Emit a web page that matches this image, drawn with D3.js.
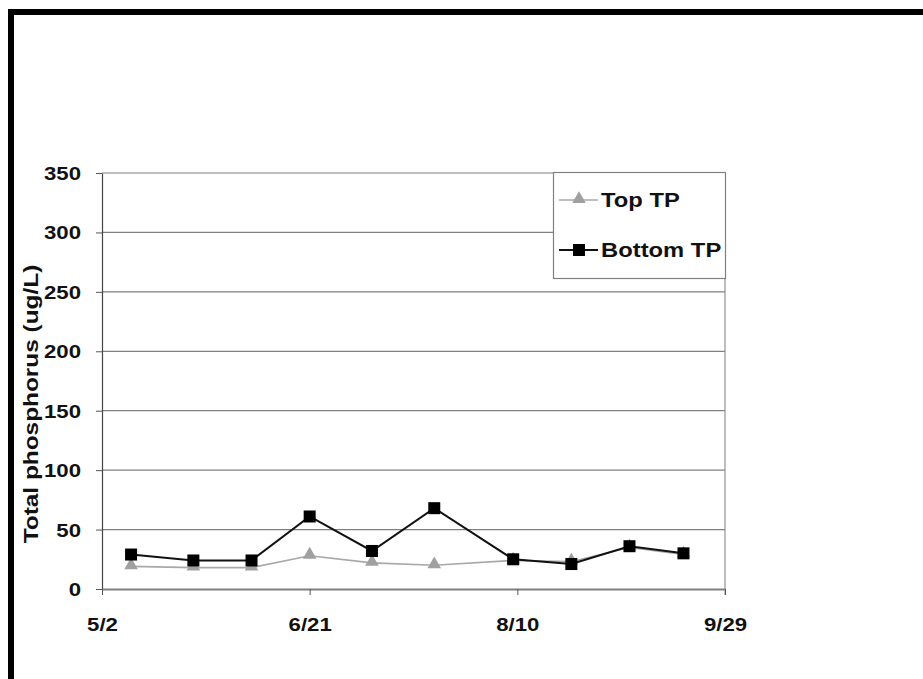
<!DOCTYPE html>
<html><head><meta charset="utf-8">
<script src="https://cdn.jsdelivr.net/npm/d3@7"></script>
<style>body{margin:0;background:#fff;} svg{display:block;} text{font-family:"Liberation Sans",Arial,sans-serif;font-weight:bold;}</style>
</head><body>
<script>
const dates = ["5/9","5/24","6/7","6/21","7/6","7/21","8/9","8/23","9/6","9/19"];
const topTP = [19, 18, 18, 28, 22, 20, 24, 23, 35, 29];
const bottomTP = [29, 24, 24, 61, 32, 68, 25, 21, 36, 30];
const xTickLabels = ["5/2","6/21","8/10","9/29"];
const yTicks = [0,50,100,150,200,250,300,350];
const seriesNames = ["Top TP","Bottom TP"];

const W = 923, H = 679;
const parse = s => { const [m,d] = s.split("/").map(Number); return new Date(2000, m-1, d); };
const svg = d3.select("body").append("svg").attr("width", W).attr("height", H);

// frame
svg.append("rect").attr("x",8).attr("y",9).attr("width",W-8).attr("height",6).attr("fill","#000");
svg.append("rect").attr("x",8).attr("y",9).attr("width",6).attr("height",H-9).attr("fill","#000");

const x = d3.scaleTime().domain([parse("5/2"), parse("9/29")]).range([102, 725]);
const y = d3.scaleLinear().domain([0,350]).range([589, 173]);
const SX = 1.2;

// gridlines
svg.append("g").selectAll("line").data(yTicks.filter(v=>v>0)).join("line")
  .attr("x1",102).attr("x2",725).attr("y1",d=>y(d)).attr("y2",d=>y(d))
  .attr("stroke","#808080").attr("stroke-width",1.2);
// right border
svg.append("line").attr("x1",725).attr("x2",725).attr("y1",y(350)).attr("y2",595)
  .attr("stroke","#909090").attr("stroke-width",1.2);

// y axis
const yAxis = d3.axisLeft(y).tickValues(yTicks).tickSize(6).tickSizeOuter(0).tickFormat(d3.format("d"));
const gy = svg.append("g").attr("transform","translate(102,0)").call(yAxis);
gy.select(".domain").attr("stroke","#444").attr("stroke-width",1.2);
gy.selectAll(".tick line").attr("stroke","#555");
gy.selectAll(".tick text").attr("font-size",18.5).attr("fill","#111").attr("x",0).attr("dy","0.35em")
  .attr("text-anchor","end").attr("transform",`translate(-21,0) scale(${SX},1)`);

// x axis
const xAxis = d3.axisBottom(x).tickValues(xTickLabels.map(parse)).tickSize(6).tickSizeOuter(0)
  .tickFormat((d,i)=>xTickLabels[i]);
const gx = svg.append("g").attr("transform",`translate(0,${y(0)})`).call(xAxis);
gx.select(".domain").attr("stroke","#808080").attr("stroke-width",2);
gx.selectAll(".tick line").attr("stroke","#555");
gx.selectAll(".tick text").attr("font-size",18.5).attr("fill","#111").attr("y",0).attr("dy","0")
  .attr("transform",`translate(0,42) scale(${SX},1)`);

// y label
svg.append("text").attr("transform",`translate(38,${(545+263)/2}) rotate(-90) scale(1.22,1)`)
  .attr("text-anchor","middle").attr("font-size",20).attr("fill","#111").text("Total phosphorus (ug/L)");

const line = d3.line().x((d,i)=>x(parse(dates[i]))).y(d=>y(d));
const tri = d3.symbol().type(d3.symbolTriangle).size(80);

// Top TP
svg.append("path").datum(topTP).attr("d",line).attr("fill","none").attr("stroke","#a8a8a8").attr("stroke-width",1.6);
svg.append("g").selectAll("path").data(topTP).join("path").attr("d",tri)
  .attr("transform",(d,i)=>`translate(${x(parse(dates[i]))},${y(d)-1})`).attr("fill","#a0a0a0");

// Bottom TP
svg.append("path").datum(bottomTP).attr("d",line).attr("fill","none").attr("stroke","#111").attr("stroke-width",2);
svg.append("g").selectAll("rect").data(bottomTP).join("rect")
  .attr("x",(d,i)=>x(parse(dates[i]))-6).attr("y",d=>y(d)-6).attr("width",12).attr("height",12).attr("fill","#000");

// legend
const lg = svg.append("g");
lg.append("rect").attr("x",553.5).attr("y",172.5).attr("width",172).attr("height",106)
  .attr("fill","#fff").attr("stroke","#808080").attr("stroke-width",1.2);
const ly = [200, 250];
lg.append("line").attr("x1",559).attr("x2",598).attr("y1",ly[0]).attr("y2",ly[0]).attr("stroke","#a8a8a8").attr("stroke-width",1.6);
lg.append("path").attr("d",tri).attr("transform",`translate(579,${ly[0]-1})`).attr("fill","#a0a0a0");
lg.append("line").attr("x1",559).attr("x2",598).attr("y1",ly[1]).attr("y2",ly[1]).attr("stroke","#111").attr("stroke-width",2);
lg.append("rect").attr("x",573).attr("y",ly[1]-6).attr("width",12).attr("height",12).attr("fill","#000");
lg.selectAll("text.l").data(seriesNames).join("text").attr("class","l")
  .attr("transform",(d,i)=>`translate(601,${ly[i]}) scale(1.22,1)`).attr("dy","0.35em")
  .attr("font-size",19.5).attr("fill","#111").text(d=>d);
</script>
</body></html>
